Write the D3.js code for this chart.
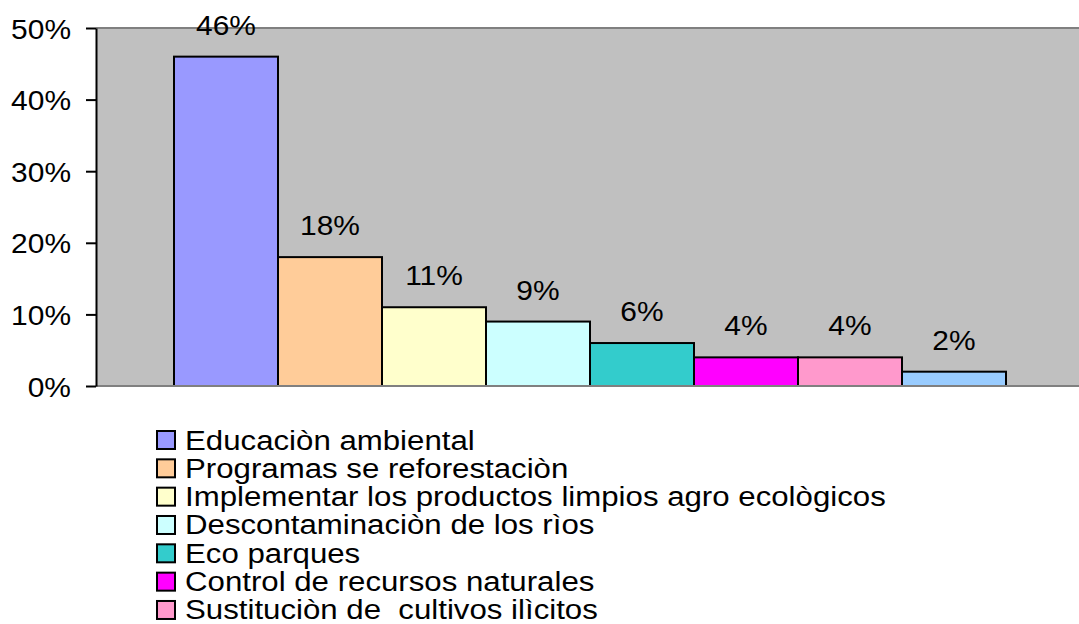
<!DOCTYPE html>
<html>
<head>
<meta charset="utf-8">
<script src="https://cdn.jsdelivr.net/npm/d3@7"></script>
<style>
  body { margin: 0; background: #fff; }
  text { font-family: "Liberation Sans", Arial, sans-serif; fill: #000; white-space: pre; }
</style>
</head>
<body>
<div id="chart"></div>
<script>
// data
var categories = [
    "Educaciòn ambiental",
    "Programas se reforestaciòn",
    "Implementar los productos limpios agro ecològicos",
    "Descontaminaciòn de los rìos",
    "Eco parques",
    "Control de recursos naturales",
    "Sustituciòn de  cultivos ilìcitos",
    "Otros"
];
var values = [0.46, 0.18, 0.11, 0.09, 0.06, 0.04, 0.04, 0.02];
var colors = ["#9999FF", "#FFCC99", "#FFFFCC", "#CCFFFF", "#33CCCC", "#FF00FF", "#FF99CC", "#99CCFF"];
var yTicks = [0, 0.1, 0.2, 0.3, 0.4, 0.5];

var width = 1079, height = 624;
var plot = { left: 96, right: 1084, top: 28, bottom: 386 };
var stretch = 1.07; // text looks wider than plain Arial

var svg = d3.select("#chart").append("svg")
    .attr("width", width)
    .attr("height", height);

// plot background
svg.append("rect")
    .attr("x", plot.left).attr("y", plot.top)
    .attr("width", plot.right - plot.left)
    .attr("height", plot.bottom - plot.top)
    .attr("fill", "#C0C0C0");
svg.append("line")
    .attr("x1", plot.left).attr("x2", plot.right)
    .attr("y1", plot.top).attr("y2", plot.top)
    .attr("stroke", "#808080").attr("stroke-width", 2);

var gap = 78;
var x = d3.scaleBand()
    .domain(categories)
    .range([plot.left + gap, plot.right - gap]);
var y = d3.scaleLinear()
    .domain([0, 0.5])
    .range([plot.bottom, plot.top]);

// bars
svg.selectAll(".bar")
    .data(values)
    .enter()
    .append("rect")
    .attr("class", "bar")
    .attr("x", (d, i) => x(categories[i]))
    .attr("y", (d) => y(d))
    .attr("width", x.bandwidth())
    .attr("height", (d) => y(0) - y(d))
    .attr("fill", (d, i) => colors[i])
    .attr("stroke", "#000")
    .attr("stroke-width", 2);

// value labels
svg.selectAll(".val")
    .data(values)
    .enter()
    .append("g")
    .attr("transform", (d, i) => "translate(" + (x(categories[i]) + x.bandwidth() / 2) + "," + (y(d) - 22) + ") scale(" + stretch + ",1)")
    .append("text")
    .attr("text-anchor", "middle")
    .attr("font-size", 28)
    .text((d) => d3.format(".0%")(d));

// bottom line
svg.append("line")
    .attr("x1", plot.left).attr("x2", plot.right)
    .attr("y1", plot.bottom).attr("y2", plot.bottom)
    .attr("stroke", "#808080").attr("stroke-width", 2);

// y axis
var yAxis = svg.append("g")
    .attr("transform", "translate(" + plot.left + ",0)")
    .call(d3.axisLeft(y).tickValues(yTicks).tickSize(10).tickSizeOuter(0).tickFormat(d3.format(".0%")));
yAxis.select(".domain").attr("stroke", "#000").attr("stroke-width", 2);
yAxis.selectAll(".tick line").attr("stroke", "#000").attr("stroke-width", 2);
yAxis.selectAll(".tick text")
    .attr("font-family", "Liberation Sans, Arial, sans-serif")
    .attr("font-size", 28)
    .attr("fill", "#000")
    .attr("x", -25 / stretch)
    .attr("dy", "0.36em")
    .attr("transform", "scale(" + stretch + ",1)");

// legend (only the rows that fit in the frame)
var legendItems = categories.slice(0, 7);
var legend = svg.append("g").attr("transform", "translate(157,431)");
var rows = legend.selectAll(".leg")
    .data(legendItems)
    .enter()
    .append("g")
    .attr("transform", (d, i) => "translate(0," + (i * 28.33) + ")");
rows.append("rect")
    .attr("width", 18).attr("height", 18)
    .attr("fill", (d, i) => colors[i])
    .attr("stroke", "#000").attr("stroke-width", 2);
rows.append("g")
    .attr("transform", "translate(28,18.5) scale(1.115,1)")
    .append("text")
    .attr("font-size", 28)
    .text((d) => d);
</script>
</body>
</html>
